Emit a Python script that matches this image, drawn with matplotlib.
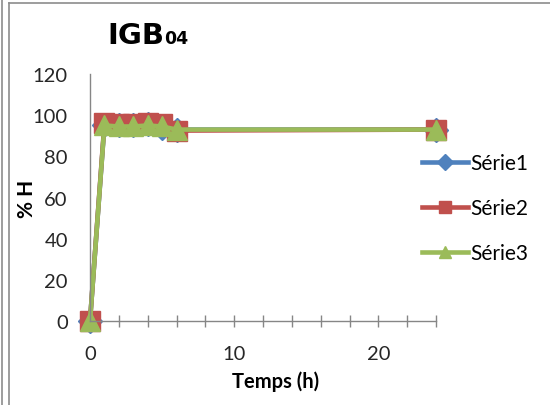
import matplotlib
matplotlib.use("Agg")
import matplotlib.pyplot as plt
from matplotlib.lines import Line2D

plt.rcParams['font.family'] = ['Lato', 'DejaVu Sans']

# Measurement times (h) and humidity (%) for three series
temps = [0, 1, 2, 3, 4, 5, 6, 24]
serie1 = [0, 95, 95, 95, 95.5, 94, 93, 93]
serie2 = [0, 96, 95.5, 95.5, 96, 95.5, 92.5, 93]
serie3 = [0, 95, 94.5, 94.5, 95, 94.5, 93, 93]
series_names = ["Série1", "Série2", "Série3"]
x_tick_labels = ["0", "10", "20"]
y_tick_labels = ["0", "20", "40", "60", "80", "100", "120"]

colors = ["#4F81BD", "#C0504D", "#9BBB59"]
markers = ["D", "s", "^"]
sizes = [12, 14, 15]

W, H = 550, 406
fig = plt.figure(figsize=(W / 100, H / 100), dpi=100)
ax = fig.add_axes([90 / W, 1 - 322 / H, (436 - 90) / W, (322 - 75) / H])

for vals, c, m, s, name in zip([serie1, serie2, serie3], colors, markers, sizes, series_names):
    ax.plot(temps, vals, color=c, lw=3.3, marker=m, ms=s, mec=c, mfc=c,
            clip_on=False, label=name, solid_joinstyle='round')

ax.set_xlim(0, 24)
ax.set_ylim(0, 120)

axis_col = "#868686"
for sp in ["top", "right"]:
    ax.spines[sp].set_visible(False)
for sp in ["left", "bottom"]:
    ax.spines[sp].set_color(axis_col)
    ax.spines[sp].set_linewidth(1.0)

xt = list(range(0, 25, 2))
ax.set_xticks(xt)
ax.set_xticklabels([str(v) if str(v) in x_tick_labels else "" for v in xt])
ax.set_yticks([int(v) for v in y_tick_labels])
ax.set_yticklabels(y_tick_labels)
ax.tick_params(axis='x', direction='inout', length=8, width=1.0, color=axis_col,
               labelsize=14.5, pad=13, labelcolor="#262626")
ax.tick_params(axis='y', length=0, labelsize=14.5, pad=16, labelcolor="#262626")

ax.set_xlabel("Temps (h)", fontsize=14.5, fontweight='bold')
ax.xaxis.set_label_coords(0.535, -0.2)
ax.set_ylabel("% H", fontsize=15, fontweight='bold', labelpad=-3)

# legend with smaller markers
handles = [Line2D([0], [0], color=c, lw=3.3, marker=m, ms=8, mfc=c, mec=c)
           for c, m in zip(colors, markers)]
fig.legend(handles, series_names, loc='upper left', bbox_to_anchor=(414 / W, 1 - 146 / H),
           frameon=False, fontsize=15, handlelength=2.2, handletextpad=0.1,
           labelspacing=1.2, borderaxespad=0)

# title
fig.text(107 / W, 1 - 44 / H, "IGB", fontsize=21, fontweight='bold',
         family=['DejaVu Sans'], ha='left', va='baseline')
fig.text(164 / W, 1 - 44 / H, "04", fontsize=12.5, fontweight='bold',
         family=['DejaVu Sans'], ha='left', va='baseline')

# chart frame
frame_col = "#8c8c8c"
fig.add_artist(Line2D([1.5 / W, 1.5 / W], [0, 1], color=frame_col, lw=1.2))
fig.add_artist(Line2D([9 / W, 9 / W], [0, 1 - 4 / H], color=frame_col, lw=1.2))
fig.add_artist(Line2D([9 / W, 1], [1 - 4 / H, 1 - 4 / H], color=frame_col, lw=1.2))

fig.savefig("out.png", dpi=100)
